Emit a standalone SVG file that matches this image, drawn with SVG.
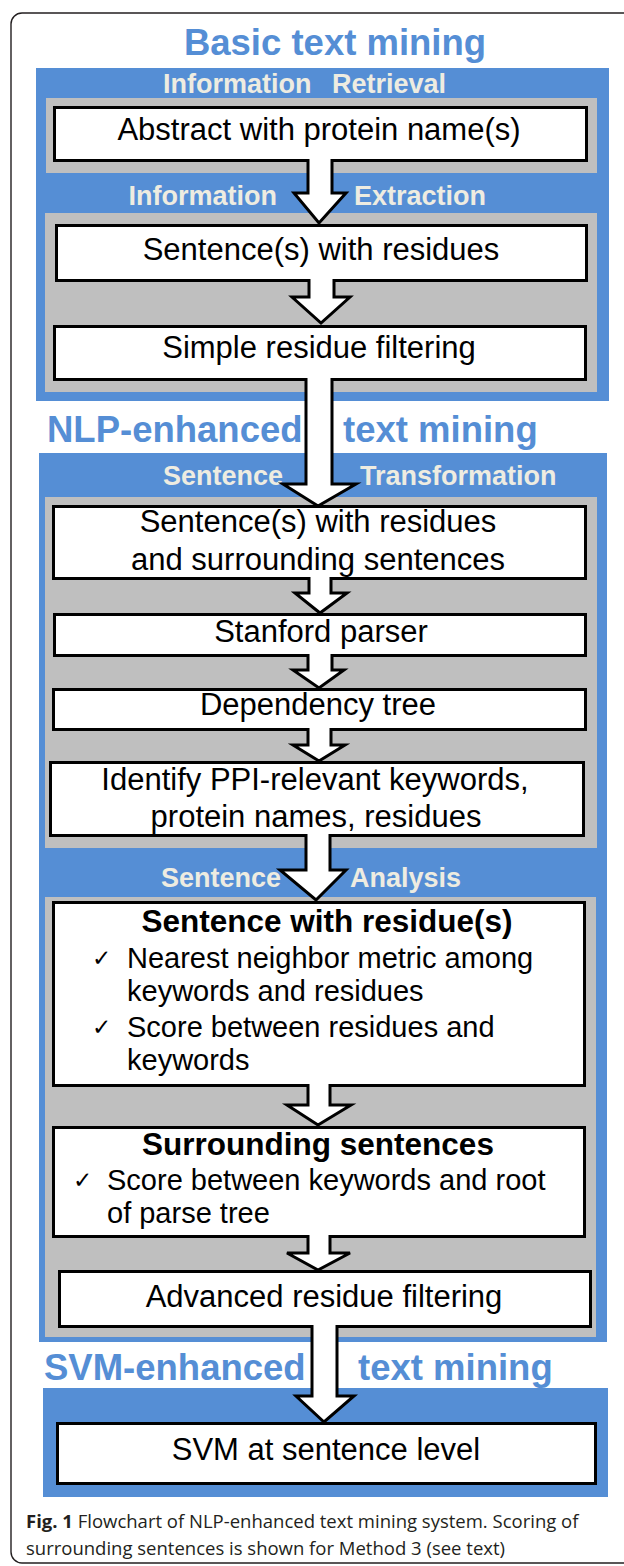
<svg xmlns="http://www.w3.org/2000/svg" width="624" height="1566" viewBox="0 0 624 1566">
  <style>
    .frame{fill:#fff;stroke:#231f20;stroke-width:1.4}
    .panel{fill:#558ed5}
    .tray{fill:#bfbfbf}
    .box{fill:#fff;stroke:#000;stroke-width:3}
    .sec{font-family:"Liberation Sans",Arial,sans-serif;font-weight:bold;font-size:36.5px;fill:#558ed5}
    .lbl{font-family:"Liberation Sans",Arial,sans-serif;font-weight:bold;font-size:27px;fill:#eeece1}
    .txt{font-family:"Liberation Sans",Arial,sans-serif;font-size:31px;fill:#000}
    .li{font-family:"Liberation Sans",Arial,sans-serif;font-size:29px;fill:#000}
    .hd{font-family:"Liberation Sans",Arial,sans-serif;font-weight:bold;font-size:31.5px;fill:#000}
    .chk{font-family:"DejaVu Sans",sans-serif;font-size:23px;fill:#000}
    .arrow{fill:#fff;stroke:#000;stroke-width:3;stroke-linejoin:miter}
    .cap{font-family:"Open Sans","Noto Sans",sans-serif;font-size:18.5px;fill:#231f20}
    .c{text-anchor:middle}
    .e{text-anchor:end}
  </style>

  <!-- outer figure frame (runs past the right edge) -->
  <rect class="frame" x="11" y="13" width="640" height="1550" rx="11"/>

  <!-- stage 1: basic text mining -->
  <g id="stage-basic">
    <text class="sec c" x="335" y="55">Basic text mining</text>
    <rect class="panel" x="36" y="68" width="573" height="333"/>
    <text class="lbl" x="163" y="93">Information</text>
    <text class="lbl" x="332" y="93">Retrieval</text>
    <rect class="tray" x="46" y="98" width="551" height="75"/>
    <text class="lbl e" x="277" y="205">Information</text>
    <text class="lbl" x="354" y="205">Extraction</text>
    <rect class="tray" x="45" y="213" width="552" height="179"/>
  </g>

  <!-- stage 2: NLP-enhanced text mining -->
  <g id="stage-nlp">
    <text class="sec" x="47" y="442">NLP-enhanced</text>
    <text class="sec" x="343" y="442">text mining</text>
    <rect class="panel" x="39" y="453" width="568" height="889"/>
    <text class="lbl e" x="283" y="485">Sentence</text>
    <text class="lbl" x="360" y="485">Transformation</text>
    <rect class="tray" x="45" y="497" width="552" height="351"/>
    <text class="lbl e" x="281" y="887">Sentence</text>
    <text class="lbl" x="350" y="887">Analysis</text>
    <rect class="tray" x="45" y="897" width="551" height="440"/>
  </g>

  <!-- stage 3: SVM-enhanced text mining -->
  <g id="stage-svm">
    <text class="sec" x="44" y="1380">SVM-enhanced</text>
    <text class="sec" x="358" y="1380">text mining</text>
    <rect class="panel" x="43" y="1388" width="565" height="109"/>
  </g>

  <!-- process boxes -->
  <g id="abstract">
    <rect class="box" x="54.5" y="107.5" width="532" height="53"/>
    <text class="txt c" x="319" y="140">Abstract with protein name(s)</text>
  </g>
  <g id="sentences">
    <rect class="box" x="56.5" y="225.5" width="530" height="55"/>
    <text class="txt c" x="321" y="260">Sentence(s) with residues</text>
  </g>
  <g id="simple-filter">
    <rect class="box" x="54.5" y="326.5" width="531" height="53"/>
    <text class="txt c" x="319" y="358">Simple residue filtering</text>
  </g>
  <g id="context">
    <rect class="box" x="53.5" y="506.5" width="532" height="72"/>
    <text class="txt c" x="318" y="532">Sentence(s) with residues</text>
    <text class="txt c" x="318" y="570">and surrounding sentences</text>
  </g>
  <g id="parser">
    <rect class="box" x="54.5" y="614.5" width="531" height="41"/>
    <text class="txt c" x="321" y="642">Stanford parser</text>
  </g>
  <g id="dep-tree">
    <rect class="box" x="53.5" y="689.5" width="532" height="40"/>
    <text class="txt c" x="318" y="715">Dependency tree</text>
  </g>
  <g id="identify">
    <rect class="box" x="50.5" y="762.5" width="533" height="73"/>
    <text class="txt c" x="315" y="790">Identify PPI-relevant keywords,</text>
    <text class="txt c" x="316" y="827">protein names, residues</text>
  </g>
  <g id="residue-sentence">
    <rect class="box" x="53.5" y="902.5" width="531" height="183"/>
    <text class="hd c" x="327" y="932">Sentence with residue(s)</text>
    <text class="chk" x="92" y="966">✓</text>
    <text class="li" x="127" y="968">Nearest neighbor metric among</text>
    <text class="li" x="127" y="1001">keywords and residues</text>
    <text class="chk" x="92" y="1035">✓</text>
    <text class="li" x="127" y="1037">Score between residues and</text>
    <text class="li" x="127" y="1070">keywords</text>
  </g>
  <g id="surrounding">
    <rect class="box" x="53.5" y="1127.5" width="531" height="109"/>
    <text class="hd c" x="318" y="1155">Surrounding sentences</text>
    <text class="chk" x="73" y="1188">✓</text>
    <text class="li" x="107" y="1190">Score between keywords and root</text>
    <text class="li" x="107" y="1223">of parse tree</text>
  </g>
  <g id="advanced-filter">
    <rect class="box" x="59.5" y="1271.5" width="531" height="55"/>
    <text class="txt c" x="324" y="1307">Advanced residue filtering</text>
  </g>
  <g id="svm">
    <rect class="box" x="57.5" y="1423.5" width="538" height="60"/>
    <text class="txt c" x="326" y="1460">SVM at sentence level</text>
  </g>

  <!-- block arrows between steps -->
  <g id="connectors">
    <path class="arrow" d="M308,159 L308,193 L294,193 L319,223 L346,193 L332,193 L332,159"/>
    <path class="arrow" d="M309,279 L309,297 L292,297 L321,323 L350,297 L334,297 L334,279"/>
    <path class="arrow" d="M306,378 L306,484 L283,484 L318,506 L356,484 L332,484 L332,378"/>
    <path class="arrow" d="M309,577 L309,593 L295,593 L320,613 L347,593 L331,593 L331,577"/>
    <path class="arrow" d="M308,654 L308,670 L293,670 L319,688 L344,670 L332,670 L332,654"/>
    <path class="arrow" d="M308,728 L308,745 L293,745 L319,761 L345,745 L331,745 L331,728"/>
    <path class="arrow" d="M306,834 L306,870 L280,870 L316,900 L346,870 L330,870 L330,834"/>
    <path class="arrow" d="M308,1084 L308,1105 L287,1105 L318,1125 L351,1105 L330,1105 L330,1084"/>
    <path class="arrow" d="M308,1235 L308,1253 L287,1253 L318,1270 L350,1253 L330,1253 L330,1235"/>
    <path class="arrow" d="M312,1325 L312,1396 L296,1396 L324,1422 L354,1396 L337,1396 L337,1325"/>
  </g>

  <!-- caption -->
  <g id="caption">
    <text class="cap" x="26" y="1528"><tspan font-weight="bold">Fig. 1</tspan> Flowchart of NLP-enhanced text mining system. Scoring of</text>
    <text class="cap" x="26" y="1555">surrounding sentences is shown for Method 3 (see text)</text>
  </g>
</svg>
